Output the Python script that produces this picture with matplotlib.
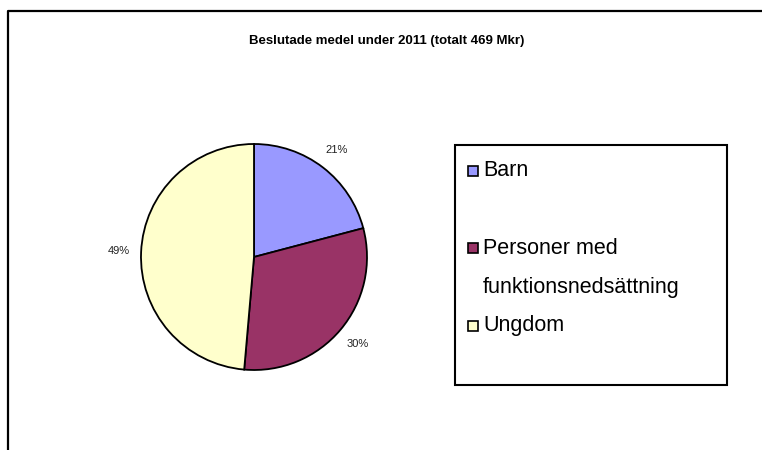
import matplotlib
matplotlib.use('Agg')
import matplotlib.pyplot as plt
from matplotlib.patches import Rectangle
from matplotlib.lines import Line2D

# ---------------------------------------------------------------
# Data (Mkr, total 469)
# ---------------------------------------------------------------
categories = ['Barn', 'Personer med\nfunktionsnedsättning', 'Ungdom']
values     = [98, 143, 228]
colors     = ['#9999FF', '#993366', '#FFFFCC']
title      = 'Beslutade medel under 2011 (totalt 469 Mkr)'

W, H = 762, 450
plt.rcParams['font.family'] = ['Liberation Sans', 'DejaVu Sans']

fig = plt.figure(figsize=(W / 100, H / 100), dpi=100)
fig.patch.set_facecolor('white')


def fx(px):
    return px / W


def fy(py):
    return 1 - py / H


# outer chart frame (only top and left edges visible)
fig.add_artist(Line2D([fx(8), fx(8), fx(W)], [fy(H), fy(11), fy(11)],
                      transform=fig.transFigure, color='black', linewidth=1.6))

# title
fig.text(fx(387), fy(41), title, ha='center', va='center',
         fontsize=9.5, fontweight='bold')

# ---------------------------------------------------------------
# Pie
# ---------------------------------------------------------------
cx, cy, r = 254, 257, 113
half = 1.25 * r
ax = fig.add_axes([fx(cx - half), fy(cy + half), 2 * half / W, 2 * half / H])
wedges, _, autotexts = ax.pie(
    values, colors=colors, startangle=90, counterclock=False,
    autopct=lambda p: f'{p:.0f}%', pctdistance=1.2,
    wedgeprops=dict(edgecolor='black', linewidth=1.3),
    textprops=dict(fontsize=8, color='#222222'))
ax.set_xlim(-1.25, 1.25)
ax.set_ylim(-1.25, 1.25)

# ---------------------------------------------------------------
# Legend box (drawn by hand to match the layout)
# ---------------------------------------------------------------
fig.add_artist(Rectangle((fx(455), fy(385)), fx(727 - 455), (385 - 145) / H,
                         transform=fig.transFigure, facecolor='white',
                         edgecolor='black', linewidth=1.5))

row_y = [171, 248, 326]
for lab, col, y in zip(categories, colors, row_y):
    fig.add_artist(Rectangle((fx(468), fy(y + 5)), fx(10), 10 / H,
                             transform=fig.transFigure, facecolor=col,
                             edgecolor='black', linewidth=1.2))
    for k, line in enumerate(lab.split('\n')):
        fig.text(fx(483), fy(y + 39 * k), line, ha='left', va='center',
                 fontsize=15.5)

fig.savefig('out.png', dpi=100)
